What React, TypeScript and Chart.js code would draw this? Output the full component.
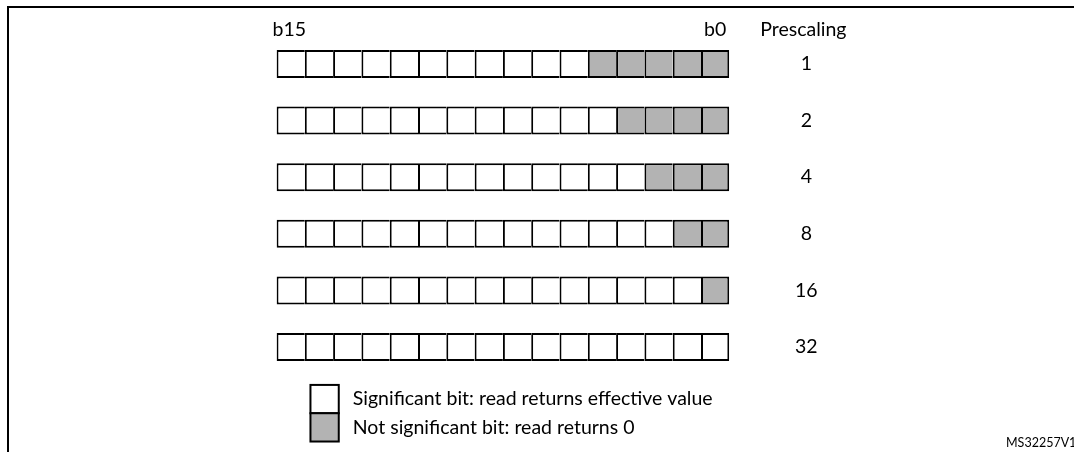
import React, { useEffect, useRef } from "react";
import { Chart, registerables } from "chart.js";

Chart.register(...registerables);

// Prescaling values (one row each)
const prescaling: string[] = ["1", "2", "4", "8", "16", "32"];
// Number of low-order bits that are not significant for each prescaling
const notSignificantBits: number[] = [5, 4, 3, 2, 1, 0];
// Bits from left (b15) to right (b0)
const bitIndices: number[] = [15, 14, 13, 12, 11, 10, 9, 8, 7, 6, 5, 4, 3, 2, 1, 0];
const legendItems: string[] = [
  "Significant bit: read returns effective value",
  "Not significant bit: read returns 0",
];
const msbLabel = "b15";
const lsbLabel = "b0";
const columnTitle = "Prescaling";
const figureId = "MS32257V1";

const GRAY = "#b3b3b3";
const WHITE = "#ffffff";
const FONT = "Lato, 'Liberation Sans', sans-serif";

export default function App() {
  const canvasRef = useRef<HTMLCanvasElement | null>(null);

  useEffect(() => {
    const canvas = canvasRef.current;
    if (!canvas) return;

    const datasets = bitIndices.map((bit, i) => ({
      label: "b" + bit,
      data: prescaling.map(() => 1),
      backgroundColor: notSignificantBits.map((n) => (bit < n ? GRAY : WHITE)),
      borderColor: "#000",
      borderWidth: {
        top: 2,
        bottom: 2,
        left: 2,
        right: i === bitIndices.length - 1 ? 2 : 0,
      },
      borderSkipped: false as const,
      barPercentage: 0.495,
      categoryPercentage: 1,
    }));

    const decor = {
      id: "decor",
      beforeDraw(chart: any) {
        const ctx = chart.ctx;
        ctx.save();
        ctx.fillStyle = "#fff";
        ctx.fillRect(0, 0, chart.width, chart.height);
        // frame
        ctx.strokeStyle = "#000";
        ctx.lineWidth = 2;
        ctx.beginPath();
        ctx.moveTo(8, chart.height);
        ctx.lineTo(8, 7);
        ctx.lineTo(chart.width, 7);
        ctx.stroke();
        ctx.restore();
      },
      afterDraw(chart: any) {
        const ctx = chart.ctx;
        const xs = chart.scales.x;
        const ys = chart.scales.y;
        const left = xs.getPixelForValue(0);
        const right = xs.getPixelForValue(bitIndices.length);
        const cell = xs.getPixelForValue(1) - left;
        const firstRow = ys.getPixelForValue(0);
        const rowStep = ys.getPixelForValue(1) - firstRow;
        const headerY = firstRow - rowStep * 0.6;

        ctx.save();
        ctx.fillStyle = "#000";
        ctx.textBaseline = "middle";
        ctx.font = "19.5px " + FONT;
        ctx.textAlign = "left";
        ctx.fillText(msbLabel, left - 4, headerY);
        ctx.textAlign = "right";
        ctx.fillText(lsbLabel, right - 3, headerY);
        ctx.textAlign = "center";
        const colX = right + 77;
        ctx.fillText(columnTitle, colX - 3, headerY);
        prescaling.forEach((p, i) => {
          ctx.fillText(p, colX, ys.getPixelForValue(i));
        });

        // legend
        const lx = left + cell * 1.2;
        const ly = ys.getPixelForValue(prescaling.length - 1) + rowStep * 0.67;
        const boxH = cell;
        [WHITE, GRAY].forEach((c, i) => {
          const y = ly + i * boxH;
          ctx.fillStyle = c;
          ctx.fillRect(lx, y, cell, boxH);
          ctx.strokeStyle = "#000";
          ctx.lineWidth = 2;
          ctx.strokeRect(lx, y, cell, boxH);
        });
        ctx.fillStyle = "#000";
        ctx.textAlign = "left";
        legendItems.forEach((t, i) => {
          ctx.fillText(t, lx + cell + 14, ly + boxH * (i + 0.5));
        });

        ctx.font = "12.5px " + FONT;
        ctx.textAlign = "left";
        ctx.fillText(figureId, 1006, 443);
        ctx.restore();
      },
    };

    const chart = new Chart(canvas, {
      type: "bar",
      data: { labels: prescaling, datasets: datasets as any },
      options: {
        indexAxis: "y",
        animation: false,
        responsive: false,
        devicePixelRatio: 1,
        layout: { padding: { left: 276.5, right: 344.7, top: 35.7, bottom: 76.7 } },
        plugins: { legend: { display: false }, tooltip: { enabled: false }, title: { display: false } },
        scales: {
          x: { type: "linear", min: 0, max: bitIndices.length, stacked: true, display: false },
          y: { stacked: true, display: false, offset: true },
        },
      },
      plugins: [decor],
    });
    return () => chart.destroy();
  }, []);

  return (
    <div style={{ position: "fixed", left: 0, top: 0, width: 1074, height: 452 }}>
      <canvas ref={canvasRef} width={1074} height={452} style={{ width: 1074, height: 452, display: "block" }} />
    </div>
  );
}
